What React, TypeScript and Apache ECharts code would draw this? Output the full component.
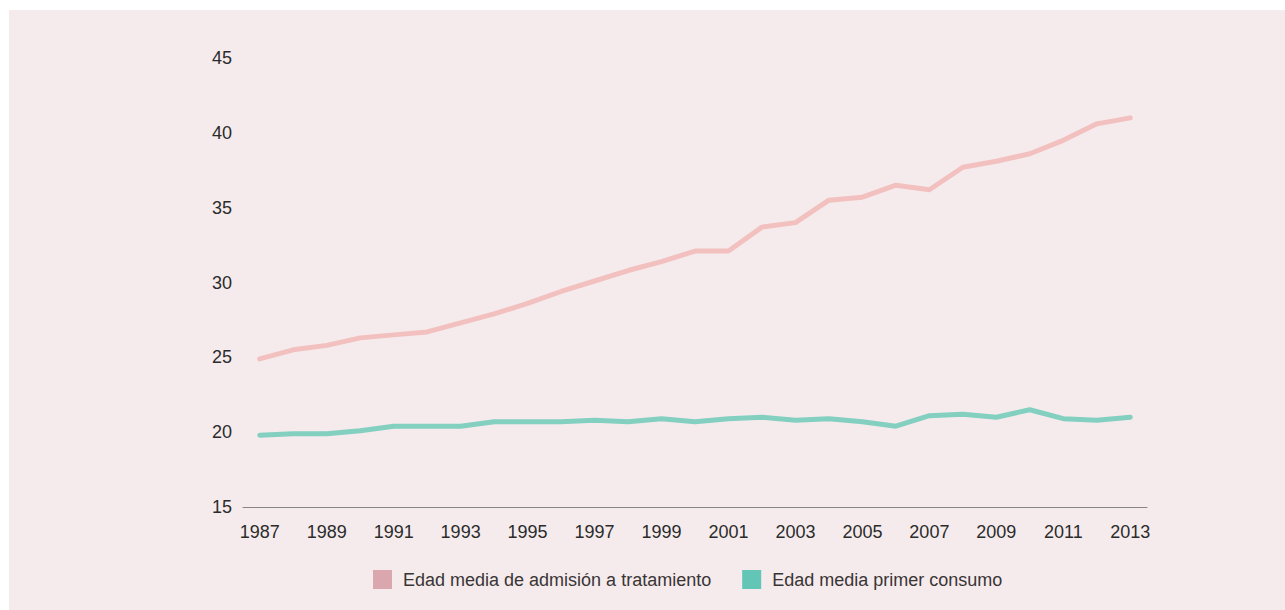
import React, { useEffect, useRef } from "react";
import * as echarts from "echarts";

const years: string[] = [
  "1987", "1988", "1989", "1990", "1991", "1992", "1993", "1994", "1995",
  "1996", "1997", "1998", "1999", "2000", "2001", "2002", "2003", "2004",
  "2005", "2006", "2007", "2008", "2009", "2010", "2011", "2012", "2013",
];

const admissionAge: number[] = [
  24.9, 25.5, 25.8, 26.3, 26.5, 26.7, 27.3, 27.9, 28.6,
  29.4, 30.1, 30.8, 31.4, 32.1, 32.1, 33.7, 34.0, 35.5,
  35.7, 36.5, 36.2, 37.7, 38.1, 38.6, 39.5, 40.6, 41.0,
];

const firstUseAge: number[] = [
  19.8, 19.9, 19.9, 20.1, 20.4, 20.4, 20.4, 20.7, 20.7,
  20.7, 20.8, 20.7, 20.9, 20.7, 20.9, 21.0, 20.8, 20.9,
  20.7, 20.4, 21.1, 21.2, 21.0, 21.5, 20.9, 20.8, 21.0,
];

const seriesNames: string[] = [
  "Edad media de admisión a tratamiento",
  "Edad media primer consumo",
];

const FONT = "'Liberation Sans', Arial, Helvetica, sans-serif";

export default function App() {
  const ref = useRef<HTMLDivElement>(null);

  useEffect(() => {
    if (!ref.current) return;
    const chart = echarts.init(ref.current, undefined, { renderer: "svg" });
    chart.setOption({
      animation: false,
      backgroundColor: "transparent",
      grid: { left: 243, right: 138, top: 58, bottom: 103, containLabel: false },
      xAxis: {
        type: "category",
        data: years,
        boundaryGap: true,
        axisLine: { show: true, lineStyle: { color: "#8a8585", width: 1 } },
        axisTick: { show: false },
        axisLabel: {
          interval: 1,
          color: "#2b2b2b",
          fontSize: 18,
          fontFamily: FONT,
          margin: 16,
        },
        splitLine: { show: false },
      },
      yAxis: {
        type: "value",
        min: 15,
        max: 45,
        interval: 5,
        axisLine: { show: false },
        axisTick: { show: false },
        splitLine: { show: false },
        axisLabel: {
          color: "#2b2b2b",
          fontSize: 18,
          fontFamily: FONT,
          margin: 11,
        },
      },
      legend: {
        left: 373,
        top: 570,
        padding: 0,
        itemWidth: 19,
        itemHeight: 19,
        itemGap: 31,
        icon: "rect",
        textStyle: {
          color: "#3a3535",
          fontSize: 18,
          fontFamily: FONT,
          padding: [0, 0, 0, 6],
        },
        data: [
          { name: seriesNames[0], itemStyle: { color: "#d9a7ad" } },
          { name: seriesNames[1], itemStyle: { color: "#63c5b6" } },
        ],
      },
      series: [
        {
          name: seriesNames[0],
          type: "line",
          data: admissionAge,
          symbol: "none",
          lineStyle: { color: "#f2c1bf", width: 5, cap: "round", join: "round" },
          itemStyle: { color: "#d9a7ad" },
        },
        {
          name: seriesNames[1],
          type: "line",
          data: firstUseAge,
          symbol: "none",
          lineStyle: { color: "#83cfc0", width: 5, cap: "round", join: "round" },
          itemStyle: { color: "#63c5b6" },
        },
      ],
    });
    return () => chart.dispose();
  }, []);

  return (
    <div
      style={{
        position: "absolute",
        left: 0,
        top: 0,
        width: 1285,
        height: 610,
        background: "#ffffff",
        overflow: "hidden",
      }}
    >
      <div
        style={{
          position: "absolute",
          left: 9,
          top: 10,
          width: 1276,
          height: 600,
          background: "#f5ebed",
        }}
      />
      <div
        ref={ref}
        style={{ position: "absolute", left: 0, top: 0, width: 1285, height: 610 }}
      />
    </div>
  );
}
